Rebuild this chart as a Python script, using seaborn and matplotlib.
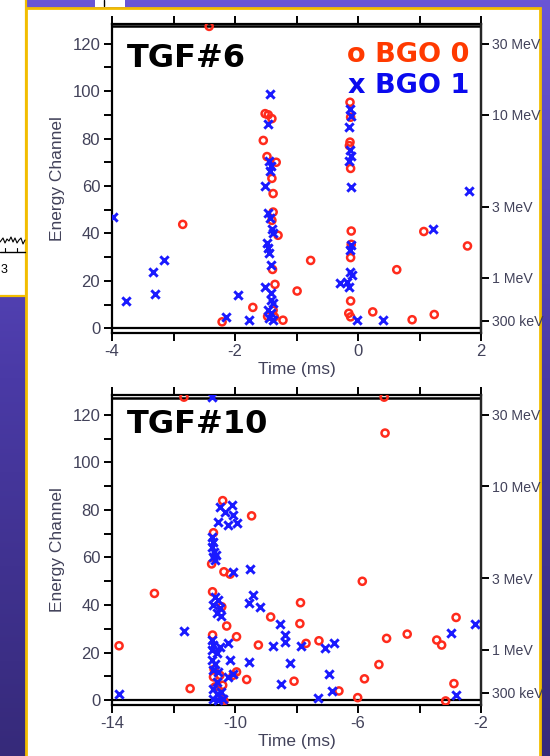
import numpy as np
import pandas as pd
import matplotlib
matplotlib.use("Agg")
import matplotlib.pyplot as plt
import seaborn as sns
from matplotlib.patches import Rectangle
from matplotlib.colors import LinearSegmentedColormap

# ---------------- data ----------------
tgf6_bgo0_t = [-2.42, -2.85, -1.51, -1.46, -1.40, -1.54, -1.48, -1.33, -1.40, -1.38,
               -1.38, -1.40, -1.30, -1.39, -1.35, -1.71, -1.47, -1.38, -1.36, -1.22,
               -2.21, -0.99, -0.77, -0.13, -0.12, -0.13, -0.14, -0.12, -0.11, -0.11,
               -0.12, -0.12, -0.15, -0.12, 0.24, 0.63, 0.88, 1.24, 1.07, 1.78]
tgf6_bgo0_ch = [127.3, 43.8, 90.5, 90.0, 88.4, 79.2, 72.4, 70.0, 63.2, 56.8,
                49.0, 45.5, 39.2, 24.8, 18.5, 8.8, 5.0, 7.6, 4.8, 3.4,
                2.7, 15.7, 28.6, 95.3, 89.0, 78.5, 77.0, 67.4, 41.0, 35.4,
                29.8, 11.5, 6.3, 4.8, 6.9, 24.7, 3.6, 5.8, 40.8, 34.7]
tgf6_bgo1_t = [-3.98, -3.77, -3.33, -3.30, -3.15, -2.15, -1.95, -1.78, -1.43, -1.46,
               -1.45, -1.41, -1.43, -1.51, -1.46, -1.43, -1.40, -1.38, -1.48, -1.46,
               -1.45, -1.42, -1.51, -1.41, -1.42, -1.39, -1.46, -1.41, -1.44, -1.39,
               -0.13, -0.12, -0.15, -0.13, -0.12, -0.15, -0.12, -0.11, -0.13, -0.13,
               -0.10, -0.18, -0.29, -0.15, -0.02, 0.41, 1.22, 1.80]
tgf6_bgo1_ch = [46.9, 11.5, 23.7, 14.6, 28.9, 4.8, 13.9, 3.5, 98.8, 86.3,
                70.7, 68.6, 66.5, 59.8, 48.5, 46.7, 42.0, 40.0, 35.8, 33.7,
                31.6, 26.5, 17.3, 14.7, 11.8, 10.5, 7.6, 6.3, 4.2, 3.4,
                92.6, 89.7, 85.0, 75.0, 72.8, 70.7, 59.4, 35.0, 32.8, 23.7,
                22.3, 19.5, 19.1, 17.4, 3.4, 3.6, 41.7, 57.8]

tgf10_bgo0_t = [-11.66, -5.15, -5.12, -10.40, -9.46, -10.70, -10.76, -10.36, -10.16, -5.86,
                -12.62, -10.73, -10.43, -7.87, -8.84, -7.89, -10.27, -10.73, -9.95, -9.24,
                -13.77, -7.69, -7.27, -5.07, -4.40, -3.44, -3.28, -2.81, -5.32, -5.79,
                -8.08, -9.62, -11.46, -6.62, -6.01, -3.15, -2.88, -10.70, -10.49, -10.06,
                -9.95, -10.65, -10.40, -10.55, -10.40, -10.36, -10.68]
tgf10_bgo0_ch = [127.4, 127.4, 112.3, 83.9, 77.5, 70.4, 57.3, 54.0, 53.0, 50.0,
                 44.9, 45.6, 39.3, 41.0, 35.0, 32.2, 31.2, 27.4, 26.7, 23.2,
                 22.9, 23.9, 25.0, 26.0, 27.8, 25.3, 23.2, 34.8, 15.0, 9.0,
                 8.0, 8.7, 4.9, 3.9, 1.1, -0.3, 7.0, 9.8, 10.5, 10.5,
                 11.9, 5.6, 6.3, 4.2, 0.7, -0.3, 13.0]
tgf10_bgo1_t = [-10.74, -13.77, -11.66, -10.49, -10.11, -10.33, -10.06, -10.54, -10.22, -9.95,
                -10.74, -10.70, -10.74, -10.67, -10.72, -10.62, -10.65, -10.06, -9.51, -10.65,
                -10.54, -10.70, -10.49, -10.60, -10.47, -9.40, -9.56, -9.19, -8.54, -8.37,
                -8.39, -8.75, -7.85, -7.07, -6.77, -10.74, -10.70, -10.76, -10.60, -10.50,
                -10.22, -10.76, -10.65, -10.16, -10.70, -10.54, -9.56, -10.06, -10.22, -10.60,
                -10.73, -10.60, -10.45, -10.70, -10.55, -10.40, -8.21, -6.94, -8.50, -6.86,
                -7.31, -2.98, -2.19, -2.81]
tgf10_bgo1_ch = [127.4, 2.8, 29.2, 81.4, 82.1, 79.3, 77.9, 75.1, 73.7, 74.4,
                 68.8, 66.7, 64.6, 62.5, 60.4, 61.0, 58.9, 54.0, 55.2, 43.5,
                 42.1, 40.0, 38.6, 36.5, 35.4, 44.2, 40.7, 39.0, 32.0, 27.4,
                 24.6, 22.7, 22.7, 21.8, 24.1, 25.3, 23.2, 21.1, 19.7, 22.4,
                 23.9, 16.8, 15.4, 17.1, 12.6, 11.9, 16.1, 10.9, 9.8, 7.7,
                 4.9, 2.8, 3.5, 0.7, 0.0, 0.7, 15.7, 10.9, 7.0, 3.9,
                 1.1, 28.1, 31.9, 2.1]

panel_titles = ["TGF#6", "TGF#10"]
tgf6_xticks = [-4, -2, 0, 2]
tgf6_xminor = [-3, -1, 1]
tgf10_xticks = [-14, -10, -6, -2]
tgf10_xminor = [-12, -8, -4]
channel_ticks = [0, 20, 40, 60, 80, 100, 120]
channel_minor = [10, 30, 50, 70, 90, 110]
energy_ch = [120, 90, 51.3, 21.2, 3.2]
energy_labels = ["30 MeV", "10 MeV", "3 MeV", "1 MeV", "300 keV"]
legend_labels = ["o BGO 0", "x BGO 1"]
inset_trace_x = [0, 3, 5, 7, 9, 11, 13, 15, 17, 19, 21, 23, 25]
inset_trace_y = [242, 238, 243, 239, 241, 237, 242, 238, 243, 240, 238, 244, 240]

# ---------------- style ----------------
sns.set_style("ticks")
plt.rcParams['font.family'] = ['Liberation Sans', 'DejaVu Sans']
RED = '#ff2b1c'
BLUE = '#1a1aff'
TXT_RED = '#ff3a00'
TXT_BLUE = '#0a0aee'
TC = '#42425a'
YEL = '#f2bd00'
TICK_FS = 12
RIGHT_FS = 10.2
LAB_FS = 12.5

W, H = 550, 756
fig = plt.figure(figsize=(5.5, 7.56), dpi=100)

# background / slide decoration
deco = fig.add_axes([0, 0, 1, 1], zorder=-5)
deco.set_xlim(0, W)
deco.set_ylim(H, 0)
deco.axis('off')
grad = np.linspace(0, 1, 256)[:, None]
cmap = LinearSegmentedColormap.from_list('bg', ['#6a56d6', '#4a3aa6', '#362a7a'])
deco.imshow(grad, extent=[0, W, H, 0], cmap=cmap, aspect='auto', zorder=0)
deco.add_patch(Rectangle((-2, -2), 27.5, 298, facecolor='white', edgecolor=YEL, lw=1.6, zorder=1))
deco.add_patch(Rectangle((95, -2), 30, 9, facecolor='white', edgecolor='none', zorder=1))
deco.plot([104, 104], [0, 6], color='black', lw=1, zorder=2)
deco.add_patch(Rectangle((25.5, 7.5), 514.5, 760, facecolor='white', edgecolor=YEL, lw=2, zorder=2))
deco.plot(inset_trace_x, inset_trace_y, color='black', lw=0.8, zorder=2)
deco.plot([0, 25], [252, 252], color='black', lw=1, zorder=2)
for tx in (5, 17):
    deco.plot([tx, tx], [252, 248], color='black', lw=0.8, zorder=2)
deco.text(0.5, 270, '3', fontsize=9, color='black', va='center', ha='left', zorder=2)


def make_panel(rect, t0, c0, t1, c1, xlim, xmaj, xmin, title, title_y, show_legend, top_line):
    ax = fig.add_axes(rect)
    ax.set_facecolor('none')
    ylim = (-2.0, 128.3)
    ax.axhline(0, color='black', lw=1.6, zorder=2)
    ax.axhline(top_line, color='black', lw=1.8, zorder=2)
    d0 = pd.DataFrame({'t': t0, 'ch': c0})
    d1 = pd.DataFrame({'t': t1, 'ch': c1})
    sns.scatterplot(data=d0, x='t', y='ch', ax=ax, marker='o', s=26, color=RED,
                    edgecolor=RED, linewidth=1.8, zorder=3, legend=False)
    coll = ax.collections[-1]
    coll.set_facecolor('none')
    coll.set_edgecolor(RED)
    sns.scatterplot(data=d1, x='t', y='ch', ax=ax, marker='x', s=36, color=BLUE,
                    linewidth=2.1, zorder=4, legend=False)
    ax.set_xlim(*xlim)
    ax.set_ylim(*ylim)
    ax.set_xticks(xmaj)
    ax.set_xticks(xmin, minor=True)
    ax.set_xticklabels([str(v) for v in xmaj])
    ax.set_yticks(channel_ticks)
    ax.set_yticks(channel_minor, minor=True)
    ax.tick_params(axis='x', which='both', direction='out', top=True, bottom=True,
                   length=5.5, width=1.4, labelsize=TICK_FS, labelcolor=TC, pad=2.5, color='black')
    ax.tick_params(axis='y', which='both', direction='out', left=True, right=False,
                   length=6, width=1.4, labelsize=TICK_FS, labelcolor=TC, pad=2.5, color='black')
    for s in ax.spines.values():
        s.set_linewidth(1.6)
        s.set_color('black')
    ax.set_xlabel('Time (ms)', fontsize=LAB_FS, color=TC, labelpad=2)
    ax.set_ylabel('Energy Channel', fontsize=LAB_FS, color=TC, labelpad=5)

    ax2 = ax.twinx()
    ax2.set_ylim(*ylim)
    ax2.set_yticks(energy_ch)
    ax2.set_yticklabels(energy_labels)
    ax2.tick_params(axis='y', direction='out', right=True, length=6, width=1.4,
                    labelsize=RIGHT_FS, labelcolor=TC, pad=2, color='black')
    for name, s in ax2.spines.items():
        s.set_visible(name == 'right')
        s.set_linewidth(1.6)

    ax.text(0.041, title_y, title, transform=ax.transAxes, fontsize=23,
            fontweight='bold', family='DejaVu Sans', color='black', va='baseline', ha='left')
    if show_legend:
        ax.text(0.9675, 0.877, legend_labels[0], transform=ax.transAxes, fontsize=19.5,
                fontweight='bold', family='DejaVu Sans', color=TXT_RED, va='baseline', ha='right')
        ax.text(0.9675, 0.777, legend_labels[1], transform=ax.transAxes, fontsize=19.5,
                fontweight='bold', family='DejaVu Sans', color=TXT_BLUE, va='baseline', ha='right')
    return ax


make_panel([112 / W, (H - 333) / H, 369 / W, 309 / H],
           tgf6_bgo0_t, tgf6_bgo0_ch, tgf6_bgo1_t, tgf6_bgo1_ch,
           (-4, 2), tgf6_xticks, tgf6_xminor, panel_titles[0], 0.861, True, 127.6)
make_panel([112 / W, (H - 705) / H, 369 / W, 310 / H],
           tgf10_bgo0_t, tgf10_bgo0_ch, tgf10_bgo1_t, tgf10_bgo1_ch,
           (-14, -2), tgf10_xticks, tgf10_xminor, panel_titles[1], 0.877, False, 127.0)

fig.savefig('out.png', dpi=100)
